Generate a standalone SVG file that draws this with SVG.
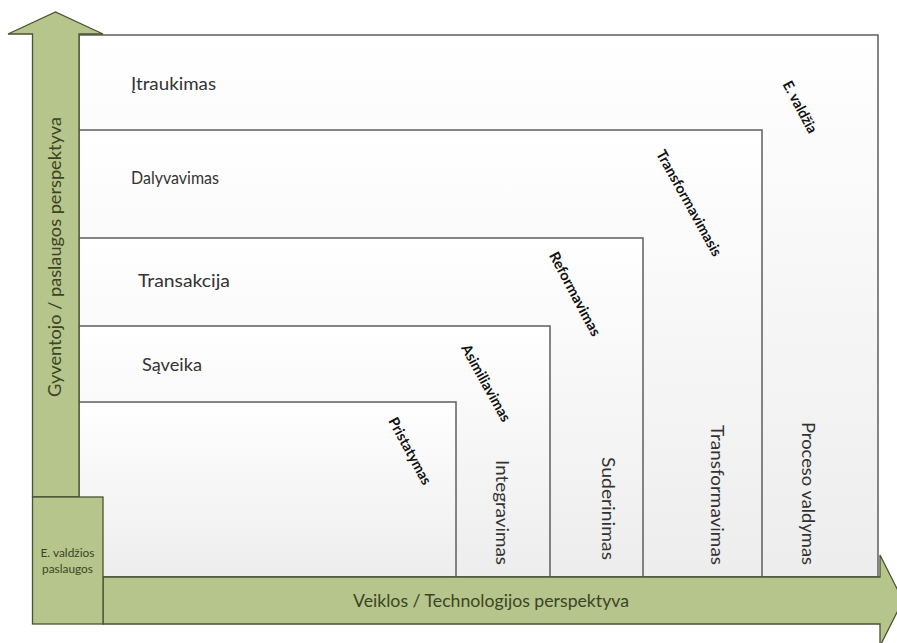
<svg xmlns="http://www.w3.org/2000/svg" width="897" height="643" viewBox="0 0 897 643">
  <defs>
    <linearGradient id="boxg" x1="0" y1="0" x2="0" y2="1">
      <stop offset="0" stop-color="#ffffff"/>
      <stop offset="1" stop-color="#ededed"/>
    </linearGradient>
    <style>
      .lvl { fill: url(#boxg); stroke: #5e5e5e; stroke-width: 1.5; }
      .arr { fill: #b6c58b; stroke: #4a5232; stroke-width: 1.3; stroke-linejoin: miter; }
      .h { font-family: Lato, "Open Sans", "Liberation Sans", sans-serif; font-size: 17px; fill: #333333; }
      .v { font-family: Lato, "Open Sans", "Liberation Sans", sans-serif; font-size: 17px; fill: #333333; text-anchor: middle; }
      .d { font-family: Lato, "Open Sans", "Liberation Sans", sans-serif; font-size: 14.5px; font-weight: bold; fill: #111111; text-anchor: middle; }
      .g { font-family: Lato, "Open Sans", "Liberation Sans", sans-serif; fill: #3b4426; text-anchor: middle; }
    </style>
  </defs>
  <rect width="897" height="643" fill="#ffffff"/>

  <g id="level-e-valdzia">
    <rect class="lvl" x="79" y="35" width="799" height="542"/>
    <text class="h" x="131" y="90" textLength="85" lengthAdjust="spacingAndGlyphs">Įtraukimas</text>
    <text class="d" transform="translate(800,107) rotate(62)" y="5" textLength="57" lengthAdjust="spacingAndGlyphs">E. valdžia</text>
    <text class="v" transform="translate(807,493.5) rotate(90)" y="5.5" textLength="143" lengthAdjust="spacingAndGlyphs">Proceso valdymas</text>
  </g>

  <g id="level-transformavimasis">
    <rect class="lvl" x="79" y="130" width="683" height="447"/>
    <text class="h" x="131" y="184" textLength="88" lengthAdjust="spacingAndGlyphs">Dalyvavimas</text>
    <text class="d" transform="translate(689,203) rotate(61)" y="5" textLength="119" lengthAdjust="spacingAndGlyphs">Transformavimasis</text>
    <text class="v" transform="translate(716,495) rotate(90)" y="5.5" textLength="140" lengthAdjust="spacingAndGlyphs">Transformavimas</text>
  </g>

  <g id="level-reformavimas">
    <rect class="lvl" x="79" y="238" width="564" height="339"/>
    <text class="h" x="138" y="287" textLength="92" lengthAdjust="spacingAndGlyphs">Transakcija</text>
    <text class="d" transform="translate(575,294) rotate(62)" y="5" textLength="93" lengthAdjust="spacingAndGlyphs">Reformavimas</text>
    <text class="v" transform="translate(607,508.5) rotate(90)" y="5.5" textLength="103" lengthAdjust="spacingAndGlyphs">Suderinimas</text>
  </g>

  <g id="level-asimiliavimas">
    <rect class="lvl" x="79" y="326" width="471" height="251"/>
    <text class="h" x="142" y="371" textLength="60" lengthAdjust="spacingAndGlyphs">Sąveika</text>
    <text class="d" transform="translate(486,383) rotate(61)" y="5" textLength="86" lengthAdjust="spacingAndGlyphs">Asimiliavimas</text>
    <text class="v" transform="translate(501,512.5) rotate(90)" y="5.5" textLength="105" lengthAdjust="spacingAndGlyphs">Integravimas</text>
  </g>

  <g id="level-pristatymas">
    <rect class="lvl" x="79" y="402" width="377" height="175"/>
    <text class="d" transform="translate(410,451) rotate(61.5)" y="5" textLength="74" lengthAdjust="spacingAndGlyphs">Pristatymas</text>
  </g>

  <g id="connectors">
    <g id="axis-vertical">
      <polygon class="arr" points="32.5,497 32.5,34 8,34 55.5,12 103,34 79,34 79,497"/>
      <text class="g" transform="translate(55,257) rotate(-90)" y="6" font-size="18" textLength="280" lengthAdjust="spacingAndGlyphs">Gyventojo / paslaugos perspektyva</text>
    </g>
    <g id="axis-horizontal">
      <polygon class="arr" points="103,577 880,577 880,555 903,600.5 880,646 880,624 103,624"/>
      <text class="g" x="491" y="607" font-size="17" textLength="276" lengthAdjust="spacingAndGlyphs">Veiklos / Technologijos perspektyva</text>
    </g>
  </g>

  <g id="e-valdzios-paslaugos">
    <rect class="arr" x="32.5" y="497" width="70.5" height="127"/>
    <text class="g" x="67.5" y="557" font-size="11" textLength="54" lengthAdjust="spacingAndGlyphs">E. valdžios</text>
    <text class="g" x="67.5" y="573" font-size="11" textLength="51" lengthAdjust="spacingAndGlyphs">paslaugos</text>
  </g>
</svg>
